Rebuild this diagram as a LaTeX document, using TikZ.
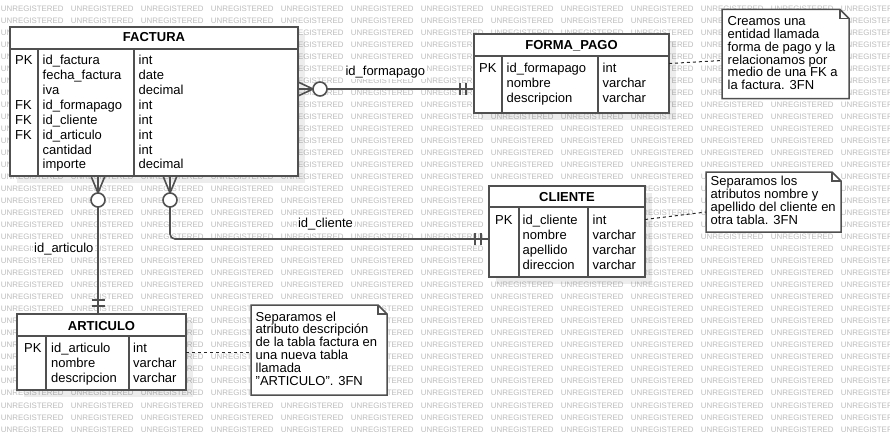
\documentclass[tikz,border=0pt]{standalone}
\usepackage{fontspec}
\setmainfont{Liberation Sans}
\usetikzlibrary{calc}
\definecolor{edge}{HTML}{505050}
\definecolor{wmgray}{HTML}{BDBDBD}
\newcommand\tabfont{\fontsize{13}{14.9}\selectfont}
\newcommand\notefont{\fontsize{13}{12.9}\selectfont}
\newcommand\wmfont{\fontsize{7.9}{8}\selectfont}
\tikzset{
 tbl/.style={draw=edge, line width=1.8pt, fill=white, anchor=north west, inner sep=0, outer sep=0},
 tblline/.style={draw=edge, line width=1.8pt},
 tblshadow/.style={fill=black, opacity=0.07},
 ttl/.style={anchor=base, inner sep=0, font=\tabfont\bfseries},
 col/.style={anchor=base west, inner sep=0, align=left, font=\tabfont},
 conn/.style={draw=edge, line width=1.6pt},
 lbl/.style={anchor=base, fill=white, inner sep=1.5pt, font=\tabfont},
 notebox/.style={anchor=north west, inner sep=0, outer sep=0},
 noteb/.style={draw=edge, line width=1.5pt, fill=white, line join=miter},
 notetxt/.style={anchor=base west, inner sep=0, align=left, font=\notefont},
 notel/.style={draw=black!85, line width=1pt, dash pattern=on 3pt off 3pt},
 wmtext/.style={anchor=west, inner sep=0, font=\wmfont, text=wmgray},
}
\begin{document}
\begin{tikzpicture}[x=1pt,y=-1pt]
\useasboundingbox (0,0) rectangle (890,436);
\clip (0,0) rectangle (890,436);
\fill[white] (0,0) rectangle (890,436);
% watermark
\foreach \r in {0,...,35}{
  \foreach \c in {0,...,12}{
    \node[wmtext] (wm-\r-\c) at ({0.7+70*\c},{8.3+12.03*\r}) {UNREGISTERED};
  }
}
% shadows
\fill[tblshadow] (17,34) rectangle (305,183);
\fill[tblshadow] (481,41) rectangle (676,120);
\fill[tblshadow] (496,193) rectangle (652,284);
\fill[tblshadow] (24,321) rectangle (193,397);

% tables
\node[tbl, minimum width=288, minimum height=149] (factura) at (10,27) {};
\draw[tblline] (10,49) -- (298,49) (38,49) -- (38,176) (134,49) -- (134,176);
\node[ttl] (factura-t) at (154,41.5) {FACTURA};
\node[col] (factura-k) at (15,168.9) {PK\\\\\\FK\\FK\\FK\\\\};
\node[col] (factura-n) at (42.5,168.9) {id\_factura\\fecha\_factura\\iva\\id\_formapago\\id\_cliente\\id\_articulo\\cantidad\\importe};
\node[col] (factura-y) at (138.5,168.9) {int\\date\\decimal\\int\\int\\int\\int\\decimal};

\node[tbl, minimum width=195, minimum height=79] (fp) at (474,34) {};
\draw[tblline] (474,56) -- (669,56) (502,56) -- (502,113) (598,56) -- (598,113);
\node[ttl] (fp-t) at (571.5,49.3) {FORMA\_PAGO};
\node[col] (fp-k) at (479,72.7) {PK};
\node[col] (fp-n) at (506.5,102.5) {id\_formapago\\nombre\\descripcion};
\node[col] (fp-y) at (602.5,102.5) {int\\varchar\\varchar};

\node[tbl, minimum width=156, minimum height=91] (cliente) at (489,186) {};
\draw[tblline] (489,207) -- (645,207) (519,207) -- (519,277) (588,207) -- (588,277);
\node[ttl] (cliente-t) at (567,201.7) {CLIENTE};
\node[col] (cliente-k) at (495,224.7) {PK};
\node[col] (cliente-n) at (522.5,269.4) {id\_cliente\\nombre\\apellido\\direccion};
\node[col] (cliente-y) at (592.5,269.4) {int\\varchar\\varchar\\varchar};

\node[tbl, minimum width=169, minimum height=76] (articulo) at (17,314) {};
\draw[tblline] (17,336) -- (186,336) (46,336) -- (46,390) (129,336) -- (129,390);
\node[ttl] (articulo-t) at (101.5,330) {ARTICULO};
\node[col] (articulo-k) at (24,352.7) {PK};
\node[col] (articulo-n) at (51,382.5) {id\_articulo\\nombre\\descripcion};
\node[col] (articulo-y) at (133,382.5) {int\\varchar\\varchar};

% connectors
\coordinate (a0) at ($(factura.north east)+(0,62)$);
\coordinate (a1) at ($(fp.north west)+(0,55)$);
\draw[conn] (a0) ++(0,-7) -- ++(15,7) -- ++(-15,7);
\draw[conn] (a0) -- ++(15,0);
\draw[conn, fill=white] ($(a0)+(22,0)$) circle[radius=7];
\draw[conn] ($(a0)+(29,0)$) -- (a1);
\draw[conn] ($(a1)+(-14,-6)$) -- ++(0,12);
\draw[conn] ($(a1)+(-8,-6)$) -- ++(0,12);

\coordinate (b0) at ($(factura.south west)+(88,0)$);
\coordinate (b1) at ($(articulo.north west)+(81,0)$);
\draw[conn] (b0) ++(-7,0) -- ++(7,17) -- ++(7,-17);
\draw[conn] (b0) -- ++(0,17);
\draw[conn, fill=white] ($(b0)+(0,24)$) circle[radius=7];
\draw[conn] ($(b0)+(0,31)$) -- (b1);
\draw[conn] ($(b1)+(-6.5,-14)$) -- ++(13,0);
\draw[conn] ($(b1)+(-6.5,-8)$) -- ++(13,0);

\coordinate (c0) at ($(factura.south west)+(160,0)$);
\coordinate (c1) at ($(cliente.north west)+(0,53)$);
\draw[conn] (c0) ++(-7,0) -- ++(7,17) -- ++(7,-17);
\draw[conn] (c0) -- ++(0,17);
\draw[conn, fill=white] ($(c0)+(0,24)$) circle[radius=7];
\draw[conn, rounded corners=5pt] ($(c0)+(0,31)$) |- (c1);
\draw[conn] ($(c1)+(-14,-6)$) -- ++(0,12);
\draw[conn] ($(c1)+(-8,-6)$) -- ++(0,12);

% connector labels
\node[lbl] (l1) at (385.3,75) {id\_formapago};
\node[lbl] (l2) at (325.5,227.3) {id\_cliente};
\node[lbl] (l3) at (63.8,252.5) {id\_articulo};

% notes
\node[notebox, minimum width=127, minimum height=89] (n1) at (722,9.5) {};
\node[notebox, minimum width=135, minimum height=60] (n2) at (706,172) {};
\node[notebox, minimum width=136, minimum height=90] (n3) at (251,305) {};
\foreach \n in {n1,n2,n3}{
  \draw[noteb] (\n.north west) -- ($(\n.north east)+(-9,0)$) -- ($(\n.north east)+(0,9)$)
     -- (\n.south east) -- (\n.south west) -- cycle;
  \draw[noteb, fill=none] ($(\n.north east)+(-9,0)$) -- ($(\n.north east)+(-9,9)$) -- ($(\n.north east)+(0,9)$);
}
\node[notetxt] (n1-t) at (727.5,89.8) {Creamos una\\entidad llamada\\forma de pago y la\\relacionamos por\\medio de una FK a\\la factura. 3FN};
\node[notetxt] (n2-t) at (710.5,224.0) {Separamos los\\atributos nombre y\\apellido del cliente en\\otra tabla. 3FN};
\node[notetxt] (n3-t) at (255.5,385.5) {Separamos el\\atributo descripción\\de la tabla factura en\\una nueva tabla\\llamada\\"ARTICULO". 3FN};

% note links
\draw[notel] ($(fp.north east)+(0,29.5)$) -- ($(n1.north west)+(0,51)$);
\draw[notel] ($(cliente.north east)+(0,33.5)$) -- ($(n2.north west)+(0,40)$);
\draw[notel] ($(articulo.north east)+(0,38)$) -- ($(n3.north west)+(0,47)$);
\end{tikzpicture}
\end{document}
